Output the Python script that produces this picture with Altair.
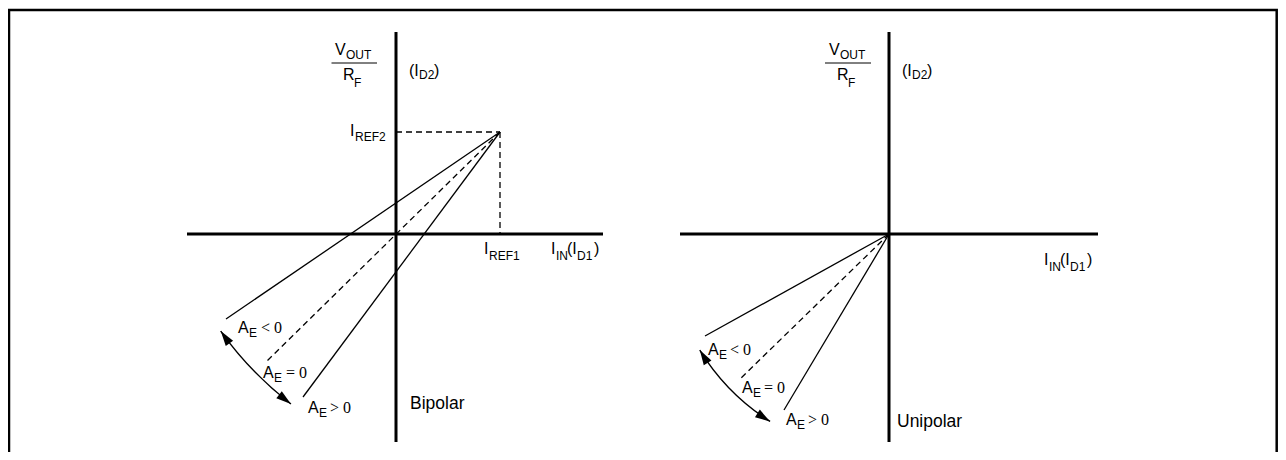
import altair as alt
import pandas as pd
import numpy as np

W, H = 1270, 444
X_MIN = 8  # diagram x of the left edge of the view (page x 8)
Y_MIN = 8  # diagram y of the bottom edge of the view (page y 452)
SANS = "Liberation Sans"
SERIF = "Liberation Serif"

# ---- panel geometry (diagram units, y up) ----
panels = ["Bipolar", "Unipolar"]
origin_x = [396, 889]
origin_y = [226, 226]

# axis extents relative to each panel origin
axis_x_min = [-209, -209]
axis_x_max = [207, 209]
axis_y_min = [-208, -208]
axis_y_max = [202, 202]

# bipolar reference point (I_REF1, I_REF2)
iref1 = 104
iref2 = 102

# transfer lines: start point (convergence) and end point, relative to origin
line_panel = [0, 0, 0, 1, 1, 1]
line_dash = [False, True, False, False, True, False]
line_x0 = [104, 104, 104, 0, 0, 0]
line_y0 = [102, 102, 102, 0, 0, 0]
line_x1 = [-170, -131, -93, -184, -150, -105]
line_y1 = [-85, -129, -163, -102, -146, -176]

# double-headed arcs (center relative to origin, radius, angles in rad)
arc_cx = [104, 0]
arc_cy = [102, 0]
arc_r = [343, 222]
arc_t1 = [3.797, 3.707]
arc_t2 = [4.093, 4.162]

# frame (left, top, right)
frame_x = [9, 9, 1276.7, 1276.7]
frame_y = [0, 450, 450, 0]

# fraction bars V_OUT / R_F
frac_x0 = [331.5, 825]
frac_x1 = [377, 871]
frac_y = [397, 397]

# text labels: text, x, baseline (y up), size, font
txt = [
    # bipolar
    ("V", 335, 405, 16, SANS), ("OUT", 346, 401, 12, SANS),
    ("R", 343, 380, 16, SANS), ("F", 354, 373, 12, SANS),
    ("(I", 409, 384, 16, SANS), ("D2", 419, 381, 12, SANS), (")", 434, 384, 16, SANS),
    ("I", 350, 324, 16, SANS), ("REF2", 355, 319, 12, SANS),
    ("I", 484, 206, 16, SANS), ("REF1", 489, 200, 12, SANS),
    ("I", 551, 206, 16, SANS), ("IN", 556, 200, 12, SANS), ("(I", 567, 206, 16, SANS),
    ("D1", 577, 200, 12, SANS), (")", 594, 206, 16, SANS),
    ("A", 238, 127, 16, SANS), ("E", 249, 123, 12, SANS), ("< 0", 261, 127, 16, SERIF),
    ("A", 263, 82, 16, SANS), ("E", 274, 78, 12, SANS), ("= 0", 286, 82, 16, SERIF),
    ("A", 308, 47, 16, SANS), ("E", 319, 43, 12, SANS), ("> 0", 330, 47, 16, SERIF),
    ("Bipolar", 410, 51, 17.5, SANS),
    # unipolar
    ("V", 829, 405, 16, SANS), ("OUT", 840, 401, 12, SANS),
    ("R", 837, 380, 16, SANS), ("F", 848, 373, 12, SANS),
    ("(I", 902, 384, 16, SANS), ("D2", 912, 381, 12, SANS), (")", 927, 384, 16, SANS),
    ("I", 1044, 195, 16, SANS), ("IN", 1049, 189, 12, SANS), ("(I", 1060, 195, 16, SANS),
    ("D1", 1070, 189, 12, SANS), (")", 1087, 195, 16, SANS),
    ("A", 708, 105, 16, SANS), ("E", 719, 101, 12, SANS), ("< 0", 730, 105, 16, SERIF),
    ("A", 742, 67, 16, SANS), ("E", 753, 63, 12, SANS), ("= 0", 764, 67, 16, SERIF),
    ("A", 786, 35, 16, SANS), ("E", 797, 31, 12, SANS), ("> 0", 808, 35, 16, SERIF),
    ("Unipolar", 897, 33, 17.5, SANS),
]

# ---- build tables ----
xs = alt.Scale(domain=[X_MIN, X_MIN + W])
ys = alt.Scale(domain=[Y_MIN, Y_MIN + H])

axes_rows = []
for i in range(2):
    ox, oy = origin_x[i], origin_y[i]
    axes_rows.append(dict(x=ox + axis_x_min[i], x2=ox + axis_x_max[i], y=oy, y2=oy))
    axes_rows.append(dict(x=ox, x2=ox, y=oy + axis_y_min[i], y2=oy + axis_y_max[i]))
axes_df = pd.DataFrame(axes_rows)

solid_rows, dash_rows = [], []
for p, d, a, b, c, e in zip(line_panel, line_dash, line_x0, line_y0, line_x1, line_y1):
    ox, oy = origin_x[p], origin_y[p]
    row = dict(x=ox + a, y=oy + b, x2=ox + c, y2=oy + e)
    (dash_rows if d else solid_rows).append(row)
# reference guides (bipolar)
ox, oy = origin_x[0], origin_y[0]
dash_rows.append(dict(x=ox, y=oy + iref2, x2=ox + iref1, y2=oy + iref2))
dash_rows.append(dict(x=ox + iref1, y=oy + iref2, x2=ox + iref1, y2=oy))
solid_df = pd.DataFrame(solid_rows)
dash_df = pd.DataFrame(dash_rows)

frac_df = pd.DataFrame(dict(x=frac_x0, x2=frac_x1, y=frac_y, y2=frac_y))

arc_rows, head_rows = [], []
for i in range(2):
    cx = origin_x[i] + arc_cx[i]
    cy = origin_y[i] + arc_cy[i]
    r = arc_r[i]
    arc_rows.append(dict(x=cx, y=cy, r=r, t1=arc_t1[i], t2=arc_t2[i]))
    for t, rot in ((arc_t2[i], np.degrees(arc_t2[i]) + 90),
                   (arc_t1[i], np.degrees(arc_t1[i]) - 90)):
        head_rows.append(dict(x=cx + r * np.sin(t), y=cy + r * np.cos(t), a=rot % 360))
arc_df = pd.DataFrame(arc_rows)
head_df = pd.DataFrame(head_rows)

frame_df = pd.DataFrame(dict(x=frame_x, y=frame_y, o=list(range(len(frame_x)))))

txt_df = pd.DataFrame(txt, columns=["t", "x", "y", "s", "f"])

X = lambda: alt.X("x:Q", scale=xs, axis=None)
Y = lambda: alt.Y("y:Q", scale=ys, axis=None)

frame = alt.Chart(frame_df).mark_line(color="black", strokeWidth=2.5).encode(
    x=X(), y=Y(), order=alt.Order("o:Q"))

axes = alt.Chart(axes_df).mark_rule(color="black", strokeWidth=3).encode(
    x=X(), y=Y(), x2="x2:Q", y2="y2:Q")

solid = alt.Chart(solid_df).mark_rule(color="black", strokeWidth=1.3).encode(
    x=X(), y=Y(), x2="x2:Q", y2="y2:Q")

dashed = alt.Chart(dash_df).mark_rule(color="black", strokeWidth=1.3, strokeDash=[6, 4]).encode(
    x=X(), y=Y(), x2="x2:Q", y2="y2:Q")

frac = alt.Chart(frac_df).mark_rule(color="black", strokeWidth=1).encode(
    x=X(), y=Y(), x2="x2:Q", y2="y2:Q")

arcs = alt.Chart(arc_df).mark_arc(filled=False, color="black", strokeWidth=1.4).encode(
    x=X(), y=Y(),
    theta=alt.Theta("t1:Q", scale=None, stack=None),
    theta2=alt.Theta2("t2:Q"),
    radius=alt.Radius("r:Q", scale=None),
    radius2=alt.Radius2("r:Q"),
)

heads = alt.Chart(head_df).mark_point(
    shape="M0,0L-0.3,1L0.3,1Z", filled=True, color="black", size=900, opacity=1
).encode(x=X(), y=Y(), angle=alt.Angle("a:Q", scale=None))

sans_txt = alt.Chart(txt_df[txt_df.f == SANS]).mark_text(
    align="left", baseline="alphabetic", font=SANS, color="black"
).encode(x=X(), y=Y(), text="t:N", size=alt.Size("s:Q", scale=None))

serif_txt = alt.Chart(txt_df[txt_df.f == SERIF]).mark_text(
    align="left", baseline="alphabetic", font=SERIF, color="black"
).encode(x=X(), y=Y(), text="t:N", size=alt.Size("s:Q", scale=None))

chart = alt.layer(frame, axes, dashed, solid, frac, arcs, heads, sans_txt, serif_txt).properties(
    width=W, height=H, padding=0, autosize="none", background="white"
).configure_view(stroke=None)

chart.save("out.html", embed_options={"renderer": "svg", "actions": False})
